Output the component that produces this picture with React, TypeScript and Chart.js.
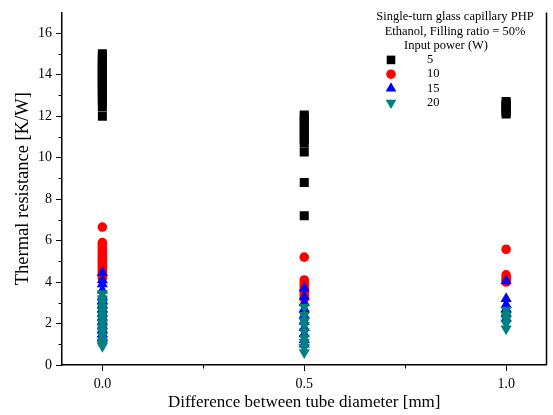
import React, { useEffect, useRef } from "react";
import { Chart, registerables } from "chart.js";

Chart.register(...registerables);

// Tube diameter difference categories [mm]
const diameters = [0.0, 0.5, 1.0];

// Thermal resistance [K/W] for each input power, per diameter difference
const r5W_d00 = [12.0, 12.45, 12.7, 12.9, 13.0, 13.15, 13.3, 13.4, 13.5, 13.6, 13.7, 13.8, 13.9, 14.0, 14.1, 14.2, 14.3, 14.4, 14.5, 14.6, 14.7, 14.85, 15.0];
const r5W_d05 = [7.2, 8.8, 10.27, 10.7, 10.9, 11.1, 11.3, 11.5, 11.7, 11.9, 12.05];
const r5W_d10 = [12.1, 12.2, 12.3, 12.4, 12.5, 12.6, 12.7];

const r10W_d00 = [4.2, 4.3, 4.4, 4.5, 4.6, 4.7, 4.8, 4.9, 5.0, 5.1, 5.2, 5.3, 5.4, 5.5, 5.6, 5.7, 5.8, 5.9, 6.65];
const r10W_d05 = [3.2, 3.35, 3.5, 3.65, 3.8, 3.95, 4.1, 5.2];
const r10W_d10 = [4.0, 4.1, 4.2, 4.35, 5.58];

const r15W_d00 = [1.3, 1.5, 1.7, 1.9, 2.1, 2.3, 2.5, 2.7, 2.9, 3.1, 3.3, 3.6, 3.9, 4.1, 4.45];
const r15W_d05 = [1.0, 1.2, 1.5, 1.8, 2.1, 2.4, 2.7, 3.0, 3.3, 3.7];
const r15W_d10 = [2.25, 2.5, 2.7, 2.9, 3.2, 4.05];

const r20W_d00 = [0.9, 1.0, 1.1, 1.2, 1.4, 1.6, 1.8, 2.0, 2.2, 2.4, 2.6, 2.8, 3.0, 3.2, 3.45];
const r20W_d05 = [0.6, 0.85, 1.1, 1.3, 1.6, 1.9, 2.1, 2.4, 2.8];
const r20W_d10 = [1.75, 2.0, 2.2, 2.4, 2.65];

const seriesLabels = ["5", "10", "15", "20"];
const legendTitle = ["Single-turn glass capillary PHP", "Ethanol, Filling ratio = 50%", "Input power (W)"];

const xTickValues = [0, 0.5, 1.0];
const xTickLabels = ["0.0", "0.5", "1.0"];
const xMinorValues = [0.25, 0.75];
const yTickValues = [0, 2, 4, 6, 8, 10, 12, 14, 16];
const yMinorValues = [1, 3, 5, 7, 9, 11, 13, 15];

const FONT = "'Liberation Serif', 'Times New Roman', serif";

function toPoints(groups: number[][]) {
  const pts: { x: number; y: number }[] = [];
  groups.forEach((vals, i) => vals.forEach((v) => pts.push({ x: diameters[i], y: v })));
  return pts;
}

const styles = [
  { color: "#000000", shape: "rect", radius: 6.4, rotation: 0 },
  { color: "#ff0000", shape: "circle", radius: 4.8, rotation: 0 },
  { color: "#0000ff", shape: "triangle", radius: 6.5, rotation: 0 },
  { color: "#008080", shape: "triangle", radius: 6.5, rotation: 180 },
];

function drawSymbol(ctx: CanvasRenderingContext2D, shape: string, x: number, y: number, r: number, rot: number) {
  ctx.beginPath();
  if (shape === "rect") {
    const s = r * Math.SQRT1_2;
    ctx.rect(x - s, y - s, 2 * s, 2 * s);
  } else if (shape === "circle") {
    ctx.arc(x, y, r, 0, Math.PI * 2);
  } else {
    const a = (rot * Math.PI) / 180;
    for (let k = 0; k < 3; k++) {
      const ang = a + (k * 2 * Math.PI) / 3;
      const px = x + Math.sin(ang) * r;
      const py = y - Math.cos(ang) * r;
      if (k === 0) ctx.moveTo(px, py);
      else ctx.lineTo(px, py);
    }
    ctx.closePath();
  }
  ctx.fill();
}

const decorPlugin = {
  id: "decor",
  afterDraw(chart: any) {
    const { ctx, chartArea: a, scales } = chart;
    const x = scales.x;
    const y = scales.y;
    ctx.save();
    ctx.strokeStyle = "#000";
    ctx.lineWidth = 1;
    for (const v of yMinorValues) {
      const p = Math.round(y.getPixelForValue(v)) + 0.5;
      ctx.beginPath();
      ctx.moveTo(a.left - 3.5, p);
      ctx.lineTo(a.left, p);
      ctx.stroke();
    }
    for (const v of xMinorValues) {
      const p = Math.round(x.getPixelForValue(v)) + 0.5;
      ctx.beginPath();
      ctx.moveTo(p, a.bottom);
      ctx.lineTo(p, a.bottom + 3.5);
      ctx.stroke();
    }
    // right frame line
    ctx.lineWidth = 1.5;
    ctx.beginPath();
    ctx.moveTo(a.right, a.top);
    ctx.lineTo(a.right, a.bottom);
    ctx.stroke();

    // legend
    ctx.fillStyle = "#000";
    ctx.font = `12.5px ${FONT}`;
    ctx.textAlign = "center";
    ctx.textBaseline = "middle";
    const cx = 455;
    const y0 = 17;
    const lh = 14.3;
    legendTitle.forEach((t, i) => ctx.fillText(t, i === 2 ? 446 : cx, y0 + i * lh));
    seriesLabels.forEach((lab, i) => {
      const yy = y0 + (3 + i) * lh;
      const st = styles[i];
      ctx.fillStyle = st.color;
      drawSymbol(ctx, st.shape, 391, yy, st.shape === "circle" ? 4.8 : st.radius * 0.95, st.rotation);
      ctx.fillStyle = "#000";
      ctx.textAlign = "left";
      ctx.fillText(lab, 427, yy);
    });
    ctx.restore();
  },
};

export default function App() {
  const ref = useRef<HTMLCanvasElement | null>(null);
  useEffect(() => {
    if (!ref.current) return;
    const groups = [
      [r5W_d00, r5W_d05, r5W_d10],
      [r10W_d00, r10W_d05, r10W_d10],
      [r15W_d00, r15W_d05, r15W_d10],
      [r20W_d00, r20W_d05, r20W_d10],
    ];
    const datasets = groups.map((g, i) => ({
      label: seriesLabels[i],
      data: toPoints(g),
      pointStyle: styles[i].shape,
      pointRadius: styles[i].radius,
      pointRotation: styles[i].rotation,
      backgroundColor: styles[i].color,
      borderColor: styles[i].color,
      pointBorderWidth: 0,
      borderWidth: 0,
      showLine: false,
      order: 3 - i,
    }));
    const chart = new Chart(ref.current, {
      type: "scatter",
      data: { datasets: datasets as any },
      options: {
        animation: false,
        responsive: false,
        layout: { padding: { top: 6, right: 4, left: 0, bottom: 0 } },
        plugins: { legend: { display: false }, tooltip: { enabled: false } },
        scales: {
          x: {
            type: "linear",
            min: -0.1,
            max: 1.1,
            afterBuildTicks: (s: any) => {
              s.ticks = xTickValues.map((v) => ({ value: v }));
            },
            afterFit: (s: any) => {
              s.height = 50;
            },
            ticks: {
              color: "#000",
              font: { family: FONT, size: 14 },
              padding: 5,
              maxRotation: 0,
              callback: (v: any) => xTickLabels[xTickValues.indexOf(Number(v))] ?? "",
            },
            grid: { drawOnChartArea: false, drawTicks: true, tickLength: 6, color: "#000", tickWidth: 1 },
            border: { display: true, color: "#000", width: 1.5 },
            title: {
              display: true,
              text: "Difference between tube diameter [mm]",
              color: "#000",
              font: { family: FONT, size: 17 },
              padding: { top: 0, bottom: 2 },
            },
          },
          y: {
            type: "linear",
            min: 0,
            max: 17,
            afterBuildTicks: (s: any) => {
              s.ticks = yTickValues.map((v) => ({ value: v }));
            },
            afterFit: (s: any) => {
              s.width = 62;
            },
            ticks: {
              color: "#000",
              font: { family: FONT, size: 14 },
              padding: 4,
              callback: (v: any) => String(v),
            },
            grid: { drawOnChartArea: false, drawTicks: true, tickLength: 6, color: "#000", tickWidth: 1 },
            border: { display: true, color: "#000", width: 1.5 },
            title: {
              display: true,
              text: "Thermal resistance [K/W]",
              color: "#000",
              font: { family: FONT, size: 18.5 },
              padding: { top: 12, bottom: 0 },
            },
          },
        },
      },
      plugins: [decorPlugin],
    });
    return () => chart.destroy();
  }, []);
  return (
    <div style={{ position: "fixed", left: 0, top: 0, width: 553, height: 415, background: "#fff" }}>
      <canvas ref={ref} width={553} height={415} style={{ width: 553, height: 415, display: "block" }} />
    </div>
  );
}
